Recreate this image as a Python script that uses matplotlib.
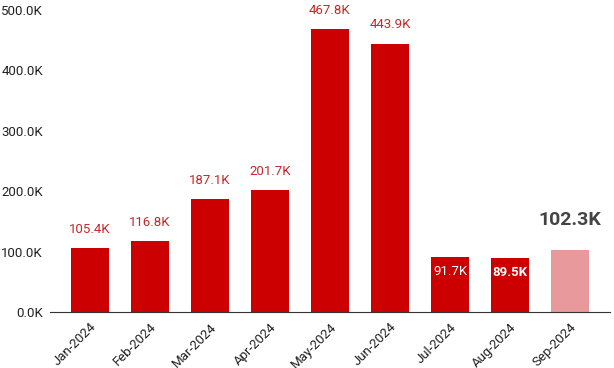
import matplotlib.pyplot as plt
import numpy as np

plt.rcParams['font.family'] = ['Roboto', 'DejaVu Sans']

months = ['Jan-2024', 'Feb-2024', 'Mar-2024', 'Apr-2024', 'May-2024',
          'Jun-2024', 'Jul-2024', 'Aug-2024', 'Sep-2024']
values = [105.4, 116.8, 187.1, 201.7, 467.8, 443.9, 91.7, 89.5, 102.3]  # thousands
yticks = [0, 100, 200, 300, 400, 500]

red = '#cc0000'
pink = '#e8999b'
colors = [red] * 8 + [pink]

fig = plt.figure(figsize=(6.14, 3.68), dpi=100)
ax = fig.add_axes([0.0814, 0.152, 0.912, 0.821])

x = np.arange(len(months))
ax.bar(x, values, width=0.64, color=colors)

for i, v in enumerate(values):
    if i in (6, 7):
        ax.annotate(f'{v:.1f}K', (i, v), xytext=(0, -15), textcoords='offset pixels',
                    ha='center', va='center', color='white', fontsize=9.5,
                    fontweight='bold' if i == 7 else 'normal')
    elif i == 8:
        ax.annotate(f'{v:.1f}K', (i, v), xytext=(0, 30), textcoords='offset pixels',
                    ha='center', va='center', color='#444444', fontsize=14,
                    fontweight='bold')
    else:
        ax.annotate(f'{v:.1f}K', (i, v), xytext=(0, 19), textcoords='offset pixels',
                    ha='center', va='center', color='#c62828', fontsize=9.5,
                    annotation_clip=False)

ax.set_xlim(-0.667, 8.667)
ax.set_ylim(0, 500)
ax.set_yticks(yticks)
ax.set_yticklabels([f'{t:.1f}K' for t in yticks], fontsize=9.5, color='#222222')
ax.set_xticks(x)
ax.set_xticklabels(months, rotation=45, ha='right', rotation_mode='anchor',
                   fontsize=9.5, color='#222222')
ax.tick_params(axis='both', length=0)
ax.tick_params(axis='y', pad=5)
ax.tick_params(axis='x', pad=6)
for s in ['top', 'right', 'left']:
    ax.spines[s].set_visible(False)
ax.spines['bottom'].set_color('#333333')

fig.savefig('out.png', dpi=100)
